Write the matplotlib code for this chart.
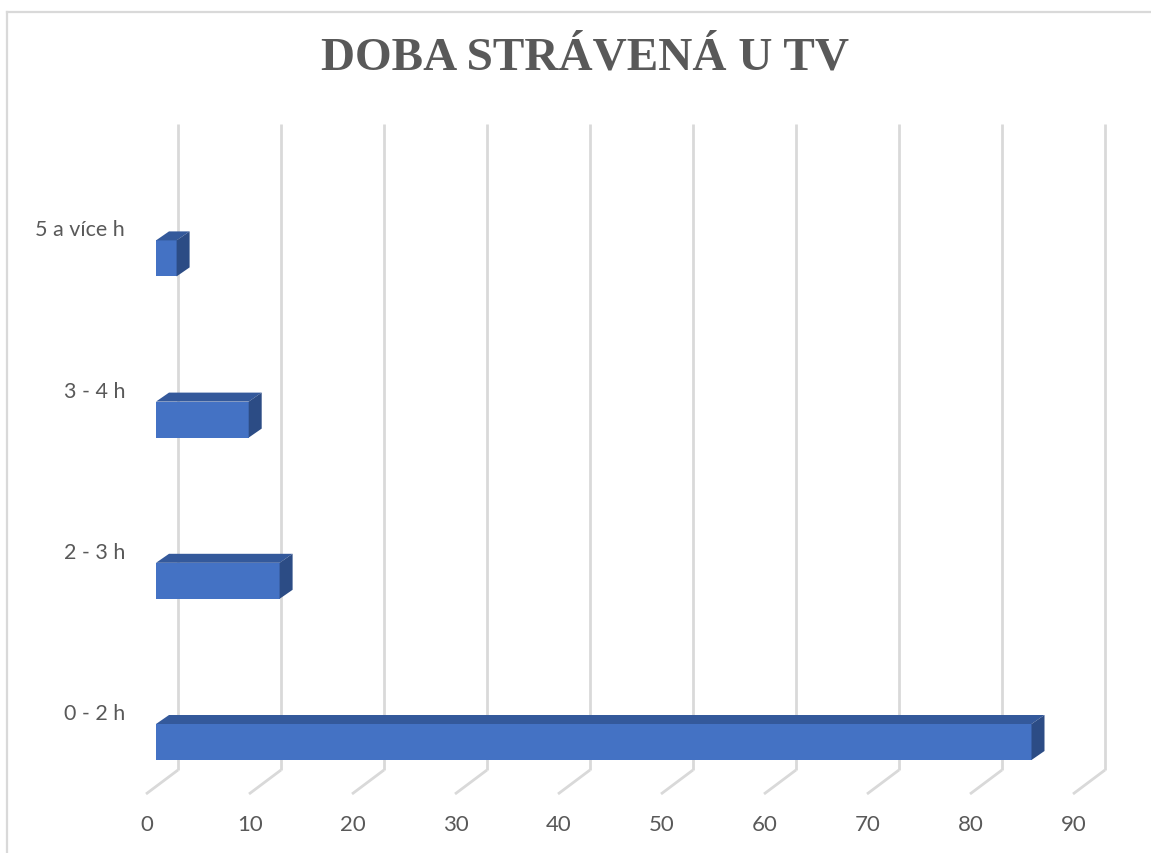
import matplotlib
matplotlib.use("Agg")
import matplotlib.pyplot as plt
from matplotlib.patches import Polygon
from matplotlib.transforms import ScaledTranslation
from matplotlib.lines import Line2D

# data
categories = ["0 - 2 h", "2 - 3 h", "3 - 4 h", "5 a více h"]
values = [85, 12, 9, 2]
xticks = [0, 10, 20, 30, 40, 50, 60, 70, 80, 90]

DPI = 100
W, H = 1151, 854
fig = plt.figure(figsize=(W / DPI, H / DPI), dpi=DPI)

# layout in pixels (front plane of the bars)
x0_px, x90_px = 156, 1083
top_px, bot_px = 125, 800
cat0_px, cat_step = 743, 161.2
ax = fig.add_axes([x0_px / W, (H - bot_px) / H, (x90_px - x0_px) / W, (bot_px - top_px) / H])
ax.set_xlim(0, 90)
ax.set_ylim((cat0_px - bot_px) / cat_step, (cat0_px - top_px) / cat_step)
ax.axis("off")

px_x = (x90_px - x0_px) / 90.0   # pixels per data unit (x)
px_y = cat_step                  # pixels per data unit (y)

def off(dx, dy):
    return ax.transData + ScaledTranslation(dx / DPI, dy / DPI, fig.dpi_scale_trans)

grid_c = "#D9D9D9"
text_c = "#595959"
grid_top = (cat0_px - top_px) / px_y
grid_bot = (cat0_px - 771) / px_y
floor_front = (cat0_px - 795) / px_y
back_dx = 22
front_dx = -10

# back wall gridlines and floor diagonals
for t in xticks:
    ax.plot([t, t], [grid_bot, grid_top], color=grid_c, lw=2, transform=off(back_dx, 0),
            solid_capstyle="butt", zorder=1, clip_on=False)
    ax.plot([t + back_dx / px_x, t + front_dx / px_x], [grid_bot, floor_front], color=grid_c,
            lw=2, solid_capstyle="butt", zorder=1, clip_on=False)
    ax.text(t, floor_front, str(t), transform=off(front_dx + 1, -30), ha="center", va="center",
            fontsize=16, family="Lato", color=text_c)

# 3D-looking bars
bar_h = 36 / px_y
ddx = 13 / px_x
ddy = 9 / px_y
front_c = "#4472C4"
top_c = "#34599B"
side_c = "#2C4C85"
ypos = list(range(len(categories)))
ax.barh(ypos, values, height=bar_h, left=0, color=front_c, zorder=3)
for y, v, lab in zip(ypos, values, categories):
    yt = y + bar_h / 2
    yb = y - bar_h / 2
    ax.add_patch(Polygon([(0, yt), (v, yt), (v + ddx, yt + ddy), (ddx, yt + ddy)],
                         closed=True, facecolor=top_c, edgecolor="none", zorder=3))
    ax.add_patch(Polygon([(v, yb), (v, yt), (v + ddx, yt + ddy), (v + ddx, yb + ddy)],
                         closed=True, facecolor=side_c, edgecolor="none", zorder=3))
    ax.text(0, y, lab, transform=off(-31, 29), ha="right", va="center",
            fontsize=15.5, family="Lato", color=text_c)

# title
fig.text(585 / W, 1 - 59 / H, "DOBA STRÁVENÁ U TV", ha="center", va="center",
         fontsize=34, family="Liberation Serif", fontweight="bold", color=text_c)

# chart area border (left and top only visible)
fig.add_artist(Line2D([7.5 / W, 7.5 / W], [0, 1 - 13 / H], color=grid_c, lw=1.6,
                      transform=fig.transFigure))
fig.add_artist(Line2D([7.5 / W, 1], [1 - 13 / H, 1 - 13 / H], color=grid_c, lw=1.6,
                      transform=fig.transFigure))

fig.savefig("out.png", dpi=DPI, facecolor="white")
